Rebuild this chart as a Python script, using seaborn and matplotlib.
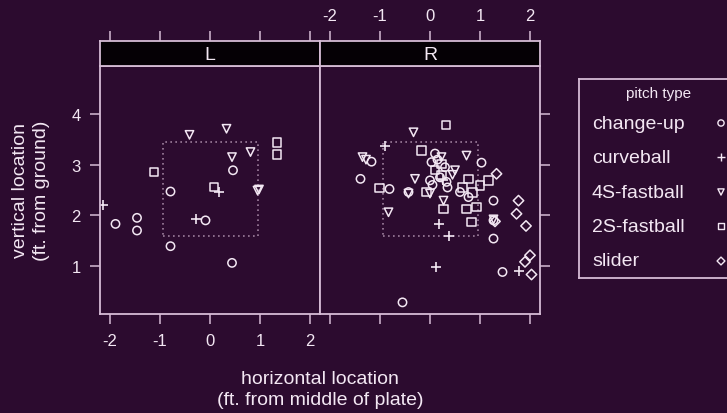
import numpy as np
import pandas as pd
import matplotlib
matplotlib.use("Agg")
import matplotlib.pyplot as plt
import seaborn as sns
from matplotlib.patches import Rectangle

# ---------------- data ----------------
pitch_types = ["change-up", "curveball", "4S-fastball", "2S-fastball", "slider"]
type_markers = {"change-up": "o", "curveball": "+", "4S-fastball": "v",
                "2S-fastball": "s", "slider": "D"}
panels = ["L", "R"]

# batter side L
L_x = [-0.79, -0.09, -1.89, -1.46, -1.46, -0.79, 0.44, 0.46,
       0.18, -0.29, -2.14,
       -0.41, 0.33, 0.81, 0.44, 0.98, 0.95,
       1.34, 1.34, -1.12, 0.08]
L_y = [2.47, 1.90, 1.83, 1.95, 1.70, 1.39, 1.06, 2.89,
       2.47, 1.93, 2.20,
       3.59, 3.71, 3.25, 3.15, 2.51, 2.49,
       3.44, 3.20, 2.85, 2.56]
L_type = (["change-up"] * 8 + ["curveball"] * 3 + ["4S-fastball"] * 6 +
          ["2S-fastball"] * 4)

# batter side R
R_x = [-1.17, -1.39, -0.81, -0.43, 0.10, 0.03, 0.00, 0.33, 0.60, 1.03,
       1.27, 1.27, 1.27, 1.45, -0.55, 0.77, 0.20, 0.15, 0.30, 0.05, 0.35,
       -0.90, 0.17, 0.37, 0.12, 1.77, 0.25,
       -0.33, -1.35, -1.28, -0.30, -0.43, -0.83, 0.73, 0.00, 0.27, 0.50,
       1.27, 0.23, 0.45,
       0.32, -0.17, -1.01, 0.23, 0.23, 0.77, 1.00, 1.17, 0.27, 0.83, 0.73,
       0.93, -0.07, 0.10, 0.65, 0.85,
       1.33, 1.77, 1.73, 1.92, 2.00, 1.90, 2.03, 1.30]
R_y = [3.06, 2.72, 2.52, 2.46, 3.22, 3.05, 2.69, 2.66, 2.46, 3.04,
       2.29, 1.90, 1.54, 0.88, 0.28, 2.36, 2.75, 3.10, 2.95, 2.60, 2.55,
       3.37, 1.83, 1.60, 0.98, 0.90, 2.70,
       3.64, 3.15, 3.10, 2.72, 2.43, 2.06, 3.18, 2.43, 2.29, 2.89,
       1.92, 3.15, 2.80,
       3.79, 3.28, 2.54, 3.02, 2.79, 2.72, 2.59, 2.69, 2.13, 1.87, 2.13,
       2.16, 2.46, 2.90, 2.55, 2.45,
       2.82, 2.29, 2.03, 1.79, 1.21, 1.08, 0.83, 1.88]
R_type = (["change-up"] * 21 + ["curveball"] * 6 + ["4S-fastball"] * 13 +
          ["2S-fastball"] * 16 + ["slider"] * 8)

x_ticks = [-2, -1, 0, 1, 2]
y_ticks = [1, 2, 3, 4]
zone_x = [-0.95, 0.95]
zone_y = [1.6, 3.45]

df = pd.concat([
    pd.DataFrame({"x": L_x, "y": L_y, "type": L_type, "side": "L"}),
    pd.DataFrame({"x": R_x, "y": R_y, "type": R_type, "side": "R"}),
], ignore_index=True)

# ---------------- style ----------------
BG = "#2c0b2f"
FG = "#f3e7f3"
LINE = "#d6bcd6"
ZONE = "#9c7e9c"

sns.set_theme(style="white")
plt.rcParams["font.family"] = ["Liberation Sans", "DejaVu Sans"]
plt.rcParams["axes.unicode_minus"] = False

W, H = 727, 414
fig = plt.figure(figsize=(W / 100, H / 100), dpi=100, facecolor=BG)


def box(x0, y0, x1, y1):
    return [x0 / W, 1 - y1 / H, (x1 - x0) / W, (y1 - y0) / H]


XLIM = (-2.2, 2.2)
YLIM = (0.05, 4.95)

axes = {"L": fig.add_axes(box(100, 67, 320, 315)),
        "R": fig.add_axes(box(320, 67, 540, 315))}
strips = {"L": fig.add_axes(box(100, 42, 320, 67)),
          "R": fig.add_axes(box(320, 42, 540, 67))}

for side in panels:
    ax = axes[side]
    ax.set_facecolor(BG)
    sub = df[df["side"] == side]
    for t in pitch_types:
        d = sub[sub["type"] == t]
        if d.empty:
            continue
        m = type_markers[t]
        if m == "+":
            sns.scatterplot(data=d, x="x", y="y", marker=m, s=55, color=FG,
                            linewidth=1.2, ax=ax, legend=False)
        else:
            sns.scatterplot(data=d, x="x", y="y", marker=m,
                            s=28 if m == "D" else 36,
                            facecolor="none", edgecolor=FG, linewidth=1.1,
                            ax=ax, legend=False)
    ax.add_patch(Rectangle((zone_x[0], zone_y[0]), zone_x[1] - zone_x[0],
                           zone_y[1] - zone_y[0], fill=False, edgecolor=ZONE,
                           linestyle=(0, (1, 2)), linewidth=1.2, zorder=0))
    ax.set_xlim(*XLIM)
    ax.set_ylim(*YLIM)
    ax.set_xlabel("")
    ax.set_ylabel("")
    for sp in ax.spines.values():
        sp.set_color(LINE)
        sp.set_linewidth(1.3)
    ax.set_xticks(x_ticks)
    ax.set_yticks(y_ticks)
    ax.tick_params(direction="out", length=7, width=1.1, color=LINE,
                   labelcolor=FG, labelsize=12, pad=7)

    st = strips[side]
    st.set_facecolor("#050005")
    st.set_xlim(*XLIM)
    st.set_ylim(0, 1)
    st.set_yticks([])
    st.set_xticks(x_ticks)
    for sp in st.spines.values():
        sp.set_color(LINE)
        sp.set_linewidth(1.3)
    st.text(0.5, 0.45, side, transform=st.transAxes, ha="center", va="center",
            color=FG, fontsize=14)
    st.xaxis.set_ticks_position("top")
    st.tick_params(axis="x", direction="out", length=7, width=1.1, color=LINE,
                   labelcolor=FG, labelsize=12, pad=6,
                   labeltop=(side == "R"), labelbottom=False, bottom=False)

axL, axR = axes["L"], axes["R"]
axL.tick_params(axis="y", left=True, right=False, labelleft=True)
axL.tick_params(axis="x", bottom=True, top=False, labelbottom=True)
axR.tick_params(axis="y", left=False, right=True, labelleft=False,
                labelright=False)
axR.tick_params(axis="x", bottom=True, top=False, labelbottom=False)

# axis titles
fig.text(320 / W, 1 - 390 / H, "horizontal location\n(ft. from middle of plate)",
         ha="center", va="center", color=FG, fontsize=14, linespacing=1.3)
fig.text(31 / W, 1 - 191 / H, "vertical location\n(ft. from ground)",
         ha="center", va="center", color=FG, fontsize=14, linespacing=1.3,
         rotation=90)

# legend (lattice-style key)
lg = fig.add_axes(box(579, 80, 760, 279))
lg.set_facecolor(BG)
lg.set_xlim(579, 760)
lg.set_ylim(279, 80)
lg.set_xticks([])
lg.set_yticks([])
for sp in lg.spines.values():
    sp.set_color(LINE)
    sp.set_linewidth(1.3)
lg.text(659, 94, "pitch type", ha="center", va="center", color=FG, fontsize=11)
entry_y = [124, 158, 193, 227, 262]
for t, ey in zip(pitch_types, entry_y):
    lg.text(592, ey, t, ha="left", va="center", color=FG, fontsize=14)
    m = type_markers[t]
    if m == "+":
        lg.scatter([721], [ey], marker=m, s=30, color=FG, linewidth=1.0)
    else:
        lg.scatter([721], [ey], marker=m, s=16 if m == "D" else 20,
                   facecolor="none", edgecolor=FG, linewidth=1.0)

fig.savefig("out.png", dpi=100, facecolor=BG)
